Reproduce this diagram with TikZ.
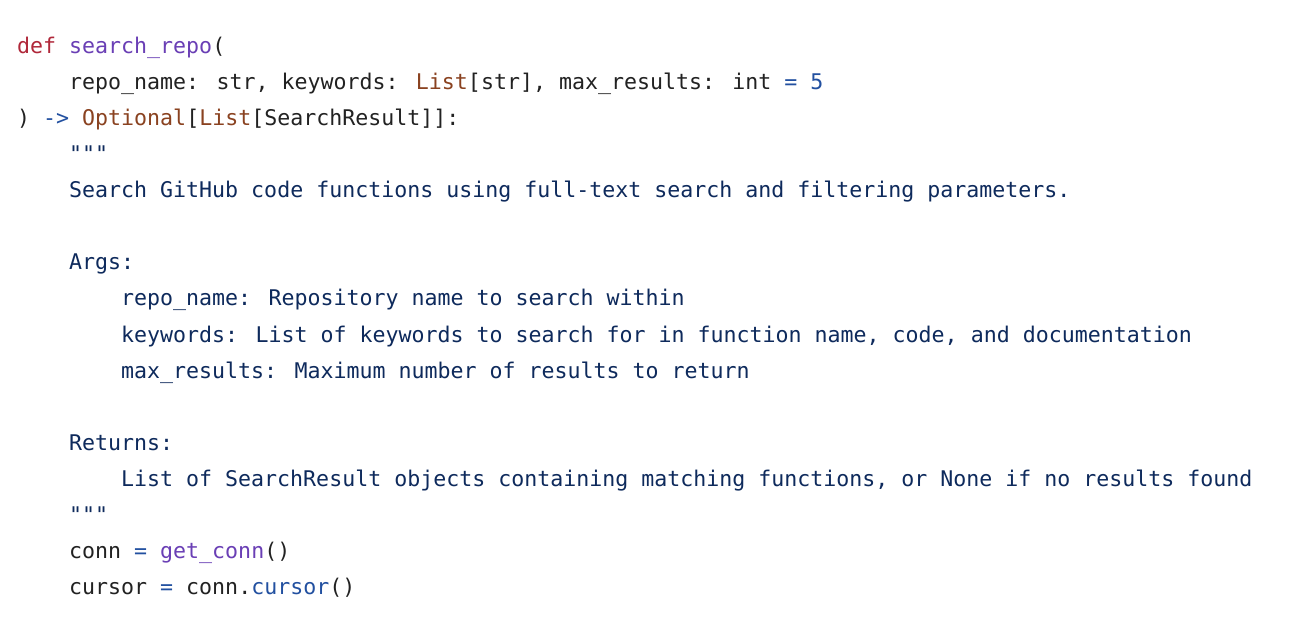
\documentclass[tikz,border=0pt]{standalone}
\usepackage{fontspec}
\newfontfamily\code{DejaVu Sans Mono}
\definecolor{kw}{HTML}{B0283A}
\definecolor{fn}{HTML}{6A3FB5}
\definecolor{ty}{HTML}{8A4220}
\definecolor{op}{HTML}{2250A0}
\definecolor{doc}{HTML}{0E2A5C}
\definecolor{tx}{HTML}{222222}
\begin{document}
\begin{tikzpicture}[x=1pt,y=1pt,
  ln/.style={anchor=base west,inner sep=0pt,font=\code\fontsize{21.6}{24}\selectfont,text=tx}]
\useasboundingbox[fill=white] (0,0) rectangle (1304,-644);
\newcommand\K[1]{\textcolor{kw}{#1}}
\newcommand\F[1]{\textcolor{fn}{#1}}
\newcommand\T[1]{\textcolor{ty}{#1}}
\newcommand\Op[1]{\textcolor{op}{#1}}
\node[ln] (l1) at (17,-54) {\K{def} \F{search\_repo}(};
\node[ln] (l2) at (69,-90) {repo\_name: str, keywords: \T{List}[str], max\_results: int \Op{=} \Op{5}};
\node[ln] (l3) at (17,-126) {) \Op{->} \T{Optional}[\T{List}[SearchResult]]:};
\node[ln,text=doc] (l4) at (69,-162) {"""};
\node[ln,text=doc] (l5) at (69,-198) {Search GitHub code functions using full-text search and filtering parameters.};
\node[ln,text=doc] (l6) at (69,-270) {Args:};
\node[ln,text=doc] (l7) at (121,-306) {repo\_name: Repository name to search within};
\node[ln,text=doc] (l8) at (121,-342) {keywords: List of keywords to search for in function name, code, and documentation};
\node[ln,text=doc] (l9) at (121,-378) {max\_results: Maximum number of results to return};
\node[ln,text=doc] (l10) at (69,-450) {Returns:};
\node[ln,text=doc] (l11) at (121,-486) {List of SearchResult objects containing matching functions, or None if no results found};
\node[ln,text=doc] (l12) at (69,-522) {"""};
\node[ln] (l13) at (69,-558) {conn \Op{=} \F{get\_conn}()};
\node[ln] (l14) at (69,-594) {cursor \Op{=} conn.\Op{cursor}()};
\end{tikzpicture}
\end{document}
